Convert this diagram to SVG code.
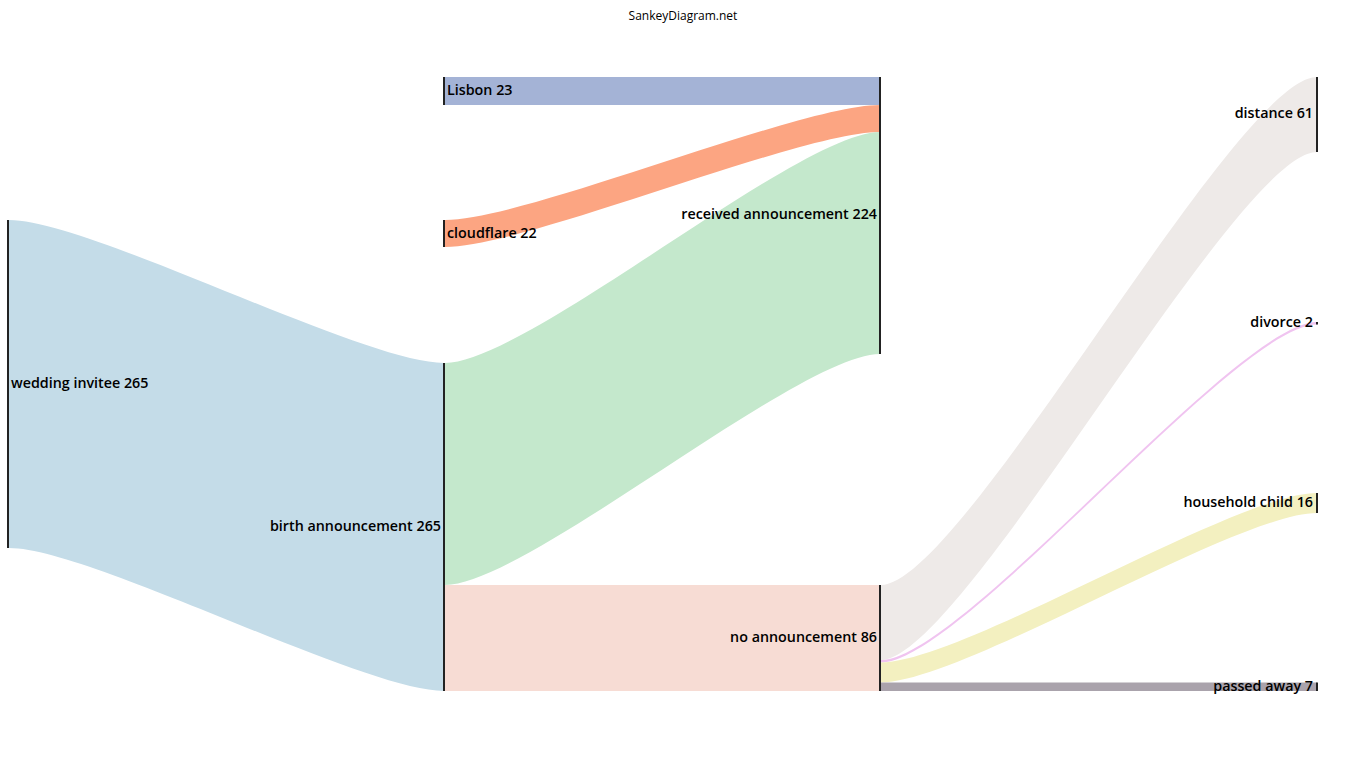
<svg xmlns="http://www.w3.org/2000/svg" width="1366" height="768" viewBox="0 0 1366 768">
<style>
text{font-family:"Open Sans","Noto Sans",sans-serif;font-size:14.3px;font-weight:600;fill:#000;dominant-baseline:middle}
.e{text-anchor:end}
.bar{fill:#222}
</style>
<rect width="1366" height="768" fill="#fff"/>
<text x="683" y="17" style="font-size:12px;font-weight:400" text-anchor="middle">SankeyDiagram.net</text>
<g id="connectors">
<path fill="#c4dce8" d="M9 220 C90 220 363 363 444 363 L444 691 C363 691 90 548 9 548 Z"/>
<path fill="#a4b3d6" d="M445 77 L880 77 L880 105 L445 105 Z"/>
<path fill="#fca582" d="M445 220 C526 220 799 105 880 105 L880 132 C799 132 526 247 445 247 Z"/>
<path fill="#c4e8cc" d="M445 363 C526 363 799 132 880 132 L880 354 C799 354 526 585 445 585 Z"/>
<path fill="#f7dcd4" d="M445 585 L880 585 L880 691 L445 691 Z"/>
<path fill="#eeeae8" d="M881 585 C962 585 1236 77 1317 77 L1317 152 C1236 152 962 660 881 660 Z"/>
<path fill="#f0c4f0" d="M881 660 C962 660 1236 322 1317 322 L1317 324.5 C1236 324.5 962 662.5 881 662.5 Z"/>
<path fill="#f3f0c0" d="M881 662.5 C962 662.5 1236 493 1317 493 L1317 513 C1236 513 962 682.5 881 682.5 Z"/>
<path fill="#aaa3ac" d="M881 682.5 L1317 682.5 L1317 691 L881 691 Z"/>
</g>
<g id="wedding"><rect class="bar" x="7" y="220" width="2" height="328"/><text x="11" y="384">wedding invitee 265</text></g>
<g id="birth"><rect class="bar" x="443" y="363" width="2" height="328"/><text class="e" x="441" y="527">birth announcement 265</text></g>
<g id="lisbon"><rect class="bar" x="443" y="77" width="2" height="28"/><text x="447" y="91">Lisbon 23</text></g>
<g id="cloudflare"><rect class="bar" x="443" y="220" width="2" height="27"/><text x="447" y="234">cloudflare 22</text></g>
<g id="received"><rect class="bar" x="879" y="77" width="2" height="277"/><text class="e" x="877" y="215">received announcement 224</text></g>
<g id="noann"><rect class="bar" x="879" y="585" width="2" height="106"/><text class="e" x="877" y="638">no announcement 86</text></g>
<g id="distance"><rect class="bar" x="1316" y="77" width="2" height="75"/><text class="e" x="1313" y="114">distance 61</text></g>
<g id="divorce"><rect class="bar" x="1316" y="322" width="2" height="2.5"/><text class="e" x="1313" y="323">divorce 2</text></g>
<g id="household"><rect class="bar" x="1316" y="493" width="2" height="20"/><text class="e" x="1313" y="503">household child 16</text></g>
<g id="passed"><rect class="bar" x="1316" y="682.5" width="2" height="8.5"/><text class="e" x="1313" y="687">passed away 7</text></g>
</svg>
